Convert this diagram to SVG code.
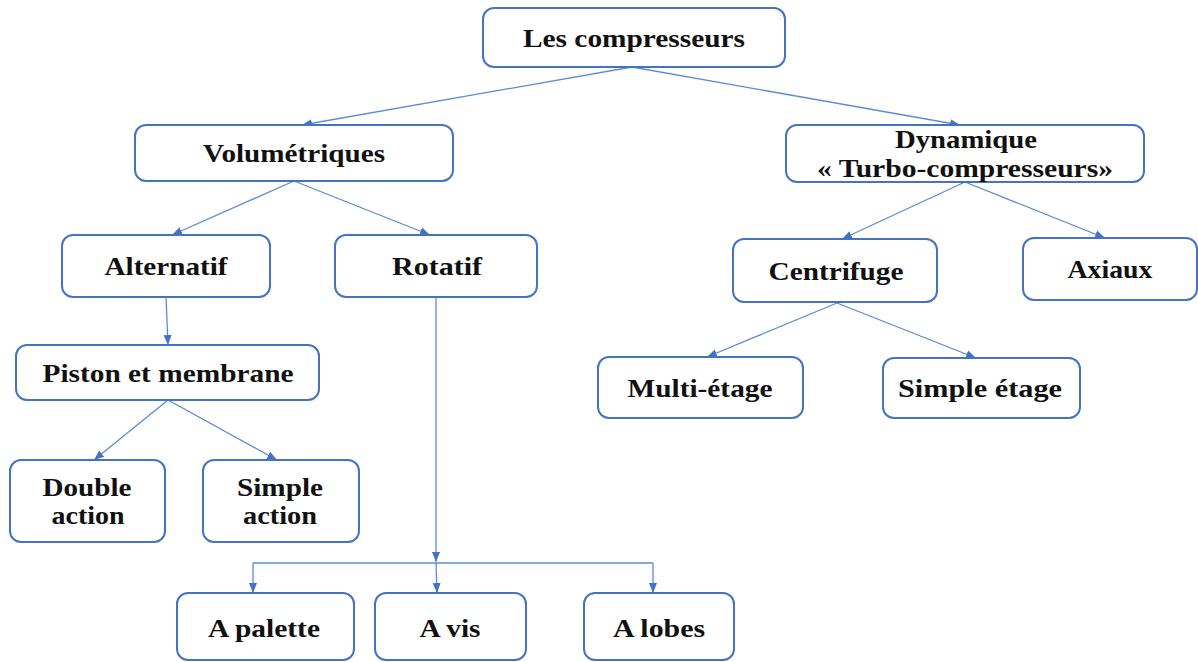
<svg xmlns="http://www.w3.org/2000/svg" width="1198" height="662" viewBox="0 0 1198 662">
<style>
.box{fill:#ffffff;stroke:#4472C4;stroke-width:2}
.lbl{font-family:"Liberation Serif","Times New Roman",serif;font-weight:bold;font-size:25px;fill:#111;text-anchor:middle}
.con{fill:none;stroke:#5B8BD6;stroke-width:1.3}
</style>
<defs>
<marker id="arr" markerUnits="userSpaceOnUse" markerWidth="10" markerHeight="10" viewBox="0 0 10 10" refX="10" refY="5" orient="auto">
<path d="M0,1 L10,5 L0,9 Z" fill="#4472C4"/>
</marker>
</defs>
<rect width="1198" height="662" fill="#ffffff"/>
<g id="connectors">
<line class="con" x1="632" y1="67" x2="302" y2="125" marker-end="url(#arr)"/>
<line class="con" x1="632" y1="67" x2="960" y2="125" marker-end="url(#arr)"/>
<line class="con" x1="294" y1="181" x2="172" y2="235" marker-end="url(#arr)"/>
<line class="con" x1="294" y1="181" x2="430" y2="235" marker-end="url(#arr)"/>
<line class="con" x1="166" y1="297" x2="168" y2="345" marker-end="url(#arr)"/>
<line class="con" x1="168" y1="400" x2="94" y2="460" marker-end="url(#arr)"/>
<line class="con" x1="168" y1="400" x2="277" y2="460" marker-end="url(#arr)"/>
<line class="con" x1="436" y1="297" x2="436" y2="562" marker-end="url(#arr)"/>
<line class="con" x1="253" y1="563" x2="653" y2="563"/>
<line class="con" x1="253" y1="563" x2="253" y2="593" marker-end="url(#arr)"/>
<line class="con" x1="436" y1="563" x2="437" y2="593" marker-end="url(#arr)"/>
<line class="con" x1="653" y1="563" x2="653" y2="593" marker-end="url(#arr)"/>
<line class="con" x1="965" y1="182" x2="842" y2="239" marker-end="url(#arr)"/>
<line class="con" x1="965" y1="182" x2="1105" y2="238" marker-end="url(#arr)"/>
<line class="con" x1="837" y1="303" x2="707" y2="357" marker-end="url(#arr)"/>
<line class="con" x1="837" y1="303" x2="976" y2="358" marker-end="url(#arr)"/>
</g>
<g id="n-root"><rect class="box" x="483" y="8" width="302" height="59" rx="11"/><text class="lbl" x="634" y="47" textLength="222" lengthAdjust="spacingAndGlyphs">Les compresseurs</text></g>
<g id="n-vol"><rect class="box" x="135" y="125" width="318" height="56" rx="11"/><text class="lbl" x="294" y="162" textLength="182" lengthAdjust="spacingAndGlyphs">Volumétriques</text></g>
<g id="n-alt"><rect class="box" x="62" y="235" width="208" height="62" rx="11"/><text class="lbl" x="166" y="275" textLength="123" lengthAdjust="spacingAndGlyphs">Alternatif</text></g>
<g id="n-rot"><rect class="box" x="335" y="235" width="202" height="62" rx="11"/><text class="lbl" x="437" y="275" textLength="90" lengthAdjust="spacingAndGlyphs">Rotatif</text></g>
<g id="n-piston"><rect class="box" x="16" y="345" width="303" height="55" rx="11"/><text class="lbl" x="168" y="382" textLength="251" lengthAdjust="spacingAndGlyphs">Piston et membrane</text></g>
<g id="n-double"><rect class="box" x="10" y="460" width="155" height="82" rx="11"/><text class="lbl" x="87" y="496" textLength="89" lengthAdjust="spacingAndGlyphs">Double</text><text class="lbl" x="88" y="524" textLength="73" lengthAdjust="spacingAndGlyphs">action</text></g>
<g id="n-simple"><rect class="box" x="203" y="460" width="156" height="82" rx="11"/><text class="lbl" x="280" y="496" textLength="86" lengthAdjust="spacingAndGlyphs">Simple</text><text class="lbl" x="280" y="524" textLength="74" lengthAdjust="spacingAndGlyphs">action</text></g>
<g id="n-palette"><rect class="box" x="177" y="593" width="177" height="67" rx="11"/><text class="lbl" x="264" y="637" textLength="112" lengthAdjust="spacingAndGlyphs">A palette</text></g>
<g id="n-vis"><rect class="box" x="375" y="593" width="151" height="67" rx="11"/><text class="lbl" x="450" y="637" textLength="61" lengthAdjust="spacingAndGlyphs">A vis</text></g>
<g id="n-lobes"><rect class="box" x="584" y="593" width="150" height="67" rx="11"/><text class="lbl" x="659" y="637" textLength="92" lengthAdjust="spacingAndGlyphs">A lobes</text></g>
<g id="n-dyn"><rect class="box" x="786" y="125" width="358" height="57" rx="11"/><text class="lbl" x="966" y="148" textLength="142" lengthAdjust="spacingAndGlyphs">Dynamique</text><text class="lbl" x="965" y="177" textLength="296" lengthAdjust="spacingAndGlyphs">« Turbo-compresseurs»</text></g>
<g id="n-centri"><rect class="box" x="733" y="239" width="204" height="63" rx="11"/><text class="lbl" x="836" y="280" textLength="135" lengthAdjust="spacingAndGlyphs">Centrifuge</text></g>
<g id="n-axiaux"><rect class="box" x="1023" y="238" width="174" height="62" rx="11"/><text class="lbl" x="1110" y="278" textLength="85" lengthAdjust="spacingAndGlyphs">Axiaux</text></g>
<g id="n-multi"><rect class="box" x="598" y="357" width="205" height="61" rx="11"/><text class="lbl" x="700" y="397" textLength="145" lengthAdjust="spacingAndGlyphs">Multi-étage</text></g>
<g id="n-simpleet"><rect class="box" x="883" y="358" width="197" height="60" rx="11"/><text class="lbl" x="980" y="397" textLength="164" lengthAdjust="spacingAndGlyphs">Simple étage</text></g>
</svg>
